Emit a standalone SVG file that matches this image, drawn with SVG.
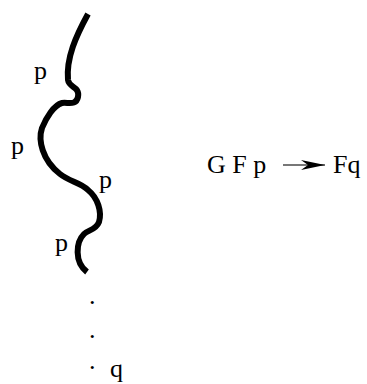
<svg xmlns="http://www.w3.org/2000/svg" width="367" height="384" viewBox="0 0 367 384">
<style>
text{font-family:"Liberation Serif","Times New Roman",serif;font-size:26px;fill:#000}
.curve{fill:none;stroke:#000;stroke-width:6;stroke-linecap:butt;stroke-linejoin:round}
.arr{stroke:#777;stroke-width:2;fill:none}
</style>
<defs>
<marker id="ah" markerUnits="userSpaceOnUse" markerWidth="26" markerHeight="12" refX="24" refY="5" orient="auto" viewBox="0 0 26 12">
<path d="M0,0 L24,5 L0,10 L7,5 Z" fill="#000"/>
</marker>
</defs>
<g id="curve">
<path class="curve" d="M88,14 C76,36 66,58 68,80 C69,88 80,86 78,97 C76,106 68,102 62,103 C54,105 46,118 42,128 C38,140 42,160 60,174 C70,182 80,182 88,190 C98,198 102,212 99,222 C96,230 88,230 84,234 C76,242 74,262 87,272"/>
</g>
<g id="labels">
<text x="34" y="79">p</text>
<text x="11" y="154">p</text>
<text x="99" y="188">p</text>
<text x="55" y="251">p</text>
<text x="89" y="304">.</text>
<text x="89" y="338">.</text>
<text x="89" y="369">.</text>
<text x="110" y="377">q</text>
</g>
<g id="formula">
<text x="207" y="173">G F p</text>
<text x="333" y="173">Fq</text>
</g>
<g id="connectors">
<line class="arr" x1="283" y1="165" x2="325" y2="165" marker-end="url(#ah)"/>
</g>
</svg>
